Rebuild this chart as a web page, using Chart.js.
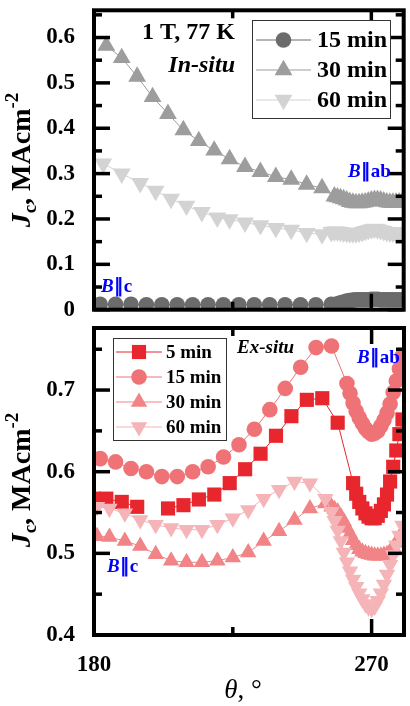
<!DOCTYPE html>
<html>
<head>
<meta charset="utf-8">
<script src="https://cdn.jsdelivr.net/npm/chart.js@4.4.0/dist/chart.umd.min.js"></script>
<style>
html, body { margin: 0; padding: 0; background: #fff; overflow: hidden; }
#wrap { position: relative; width: 410px; height: 706px; overflow: hidden; }
#topChart { position: absolute; left: 0; top: 0; }
#botChart { position: absolute; left: 0; top: 318px; }
</style>
</head>
<body>
<div id="wrap">
<canvas id="topChart" width="414" height="320"></canvas>
<canvas id="botChart" width="414" height="388"></canvas>
</div>
<script>
// ---- in-situ, 1 T, 77 K (top panel) ----
var inSituNames = ['15 min', '30 min', '60 min'];
var angIn15 = [182, 187, 192, 197, 202, 207, 212, 217, 222, 227, 232, 237, 242, 247, 252, 257,
  259, 260, 261, 262, 263, 264, 265, 266, 267, 268, 269, 270, 271, 272, 273, 274, 275, 276, 277, 278, 279, 280];
var jcIn15 = [0.012, 0.012, 0.012, 0.011, 0.011, 0.011, 0.011, 0.011, 0.011, 0.011, 0.011, 0.011, 0.011, 0.011, 0.011, 0.012,
  0.013, 0.015, 0.017, 0.019, 0.020, 0.021, 0.022, 0.022, 0.022, 0.022, 0.022, 0.023, 0.023, 0.023, 0.022, 0.022, 0.022, 0.022, 0.022, 0.022, 0.022, 0.022];
var angIn30 = [184, 189, 194, 199, 204, 209, 214, 219, 224, 229, 234, 239, 244, 249, 254,
  258, 259, 260, 261, 262, 263, 264, 265, 266, 267, 268, 269, 270, 271, 272, 273, 274, 275, 276, 277, 278, 279, 280];
var jcIn30 = [0.582, 0.555, 0.514, 0.469, 0.432, 0.396, 0.372, 0.351, 0.332, 0.315, 0.304, 0.293, 0.287, 0.276, 0.268,
  0.250, 0.248, 0.246, 0.244, 0.241, 0.238, 0.236, 0.235, 0.235, 0.236, 0.237, 0.239, 0.241, 0.242, 0.242, 0.241, 0.239, 0.237, 0.236, 0.236, 0.236, 0.237, 0.237];
var angIn60 = [183, 189, 195, 200, 205, 210, 215, 220, 224, 229, 234, 239, 244, 249, 254,
  257, 258, 259, 260, 261, 262, 263, 264, 265, 266, 267, 268, 269, 270, 271, 272, 273, 274, 275, 276, 277, 278, 279, 280];
var jcIn60 = [0.322, 0.300, 0.279, 0.262, 0.244, 0.229, 0.215, 0.203, 0.199, 0.192, 0.186, 0.180, 0.176, 0.169, 0.166,
  0.171, 0.172, 0.172, 0.171, 0.170, 0.169, 0.168, 0.168, 0.168, 0.169, 0.171, 0.173, 0.175, 0.177, 0.178, 0.177, 0.175, 0.173, 0.171, 0.170, 0.170, 0.170, 0.170, 0.170];

// ---- ex-situ (bottom panel) ----
var exSituNames = ['5 min', '15 min', '30 min', '60 min'];
var angEx5 = [180, 184, 189, 194, 199, 204, 209, 214, 219, 224, 229, 234, 239, 244, 249, 254, 259,
  264, 265, 266, 267, 268, 269, 270, 271, 272, 273, 274, 275, 276, 277, 278, 279, 280];
var jcEx5 = [0.567, 0.567, 0.563, 0.557, null, 0.555, 0.559, 0.566, 0.572, 0.586, 0.603, 0.622, 0.644, 0.668, 0.688, 0.690, 0.660,
  0.586, 0.573, 0.563, 0.555, 0.549, 0.545, 0.543, 0.543, 0.546, 0.552, 0.560, 0.572, 0.588, 0.606, 0.626, 0.646, 0.664];
var angEx15 = [182, 187, 192, 197, 202, 207, 212, 217, 222, 227, 232, 237, 242, 247, 252, 257, 262,
  263, 264, 265, 266, 267, 268, 269, 270, 271, 272, 273, 274, 275, 276, 277, 278, 279, 280];
var jcEx15 = [0.616, 0.612, 0.604, 0.600, 0.594, 0.594, 0.600, 0.606, 0.618, 0.633, 0.652, 0.676, 0.702, 0.728, 0.752, 0.754, 0.708,
  0.696, 0.684, 0.674, 0.666, 0.659, 0.653, 0.649, 0.646, 0.647, 0.650, 0.656, 0.663, 0.672, 0.683, 0.697, 0.711, 0.726, 0.742];
var angEx30 = [181, 185, 190, 195, 200, 205, 210, 215, 220, 225, 230, 235, 240, 245, 250, 255,
  257, 258, 259, 260, 261, 262, 263, 264, 265, 266, 267, 268, 269, 270, 271, 272, 273, 274, 275, 276, 277, 278, 279, 280];
var jcEx30 = [0.521, 0.520, 0.515, 0.509, 0.499, 0.491, 0.489, 0.489, 0.491, 0.495, 0.501, 0.515, 0.527, 0.541, 0.555, 0.561,
  0.557, 0.554, 0.551, 0.545, 0.539, 0.531, 0.524, 0.516, 0.510, 0.505, 0.502, 0.500, 0.499, 0.498, 0.497, 0.497, 0.497, 0.498, 0.499, 0.502, 0.507, 0.513, 0.519, 0.526];
var angEx60 = angEx30;
var jcEx60 = [0.557, 0.555, 0.549, 0.541, 0.535, 0.531, 0.529, 0.529, 0.535, 0.543, 0.553, 0.567, 0.578, 0.588, 0.586, 0.567,
  0.551, 0.540, 0.528, 0.515, 0.501, 0.489, 0.478, 0.468, 0.459, 0.451, 0.444, 0.438, 0.434, 0.432, 0.435, 0.442, 0.451, 0.462, 0.474, 0.486, 0.498, 0.510, 0.522, 0.534];

var xTickLabels = [180, 270];

var serif = "'Liberation Serif', 'Times New Roman', serif";
function b(s) { return 'bold ' + s + 'px ' + serif; }
function bi(s) { return 'italic bold ' + s + 'px ' + serif; }

function series(name, xs, ys, color, style, r, rot, order) {
  return {
    label: name,
    data: xs.map(function (x, i) { return { x: x, y: ys[i] }; }),
    showLine: true, borderColor: color, backgroundColor: color, borderWidth: 1,
    pointStyle: style, pointRadius: r, pointRotation: rot || 0,
    pointBackgroundColor: color, pointBorderColor: color, pointBorderWidth: 0,
    pointHoverRadius: r, order: order || 0
  };
}

function drawRuns(ctx, runs, x, y, align) {
  var total = 0;
  runs.forEach(function (r) { ctx.font = r[1]; total += ctx.measureText(r[0]).width; });
  var cx = align === 'center' ? x - total / 2 : (align === 'right' ? x - total : x);
  runs.forEach(function (r) {
    ctx.font = r[1];
    ctx.fillText(r[0], cx, y + (r[2] || 0));
    cx += ctx.measureText(r[0]).width;
  });
}

function line(ctx, x0, y0, x1, y1) {
  ctx.beginPath(); ctx.moveTo(x0, y0); ctx.lineTo(x1, y1); ctx.stroke();
}

// frame with inward ticks on all four sides
var framePlugin = {
  id: 'frame',
  afterDatasetsDraw: function (chart) {
    var ctx = chart.ctx, a = chart.chartArea;
    var xs = chart.scales.x, ys = chart.scales.y;
    ctx.save();
    ctx.strokeStyle = '#000';
    ctx.lineWidth = 3.5;
    ys.ticks.forEach(function (t) {
      var y = ys.getPixelForValue(t.value);
      var len = Math.round(t.value * 100) % 10 === 0 ? 16 : 8;
      line(ctx, a.left, y, a.left + len, y);
      line(ctx, a.right, y, a.right - len, y);
    });
    xs.ticks.forEach(function (t) {
      var x = xs.getPixelForValue(t.value);
      var len = t.value % 90 === 0 ? 16 : 8;
      line(ctx, x, a.bottom, x, a.bottom - len);
      line(ctx, x, a.top, x, a.top + len);
    });
    ctx.lineWidth = 4;
    ctx.strokeRect(a.left, a.top, a.right - a.left, a.bottom - a.top);
    ctx.restore();
  }
};

function drawLegend(chart, box, rows, lx0, lx1, tx, font) {
  var ctx = chart.ctx;
  ctx.save();
  ctx.fillStyle = '#fff';
  ctx.fillRect(box[0], box[1], box[2], box[3]);
  ctx.strokeStyle = '#333';
  ctx.lineWidth = 1;
  ctx.strokeRect(box[0] + 0.5, box[1] + 0.5, box[2], box[3]);
  chart.data.datasets.forEach(function (ds, i) {
    var y = rows[i];
    ctx.strokeStyle = ds.borderColor;
    ctx.lineWidth = 1;
    line(ctx, lx0, y, lx1, y);
    ctx.fillStyle = ds.borderColor;
    Chart.helpers.drawPoint(ctx, { pointStyle: ds.pointStyle, radius: ds.pointRadius, rotation: ds.pointRotation, borderWidth: 0 }, (lx0 + lx1) / 2, y);
    ctx.fillStyle = '#000';
    ctx.font = font;
    ctx.textBaseline = 'middle';
    ctx.textAlign = 'left';
    ctx.fillText(ds.label, tx, y + 1);
  });
  ctx.restore();
}

function drawYTitle(ctx, x, cy) {
  ctx.save();
  ctx.translate(x, cy);
  ctx.rotate(-Math.PI / 2);
  ctx.fillStyle = '#000';
  ctx.textBaseline = 'alphabetic';
  drawRuns(ctx, [['J', bi(28)], ['c', b(19), 6], [', MAcm', b(28)], ['-2', b(19), -12]], 0, 0, 'center');
  ctx.restore();
}

function blueB(ctx, rest, x, y, size) {
  ctx.fillStyle = '#0000ff';
  drawRuns(ctx, [['B', bi(size)], [rest, b(size)]], x, y);
}

var topDecor = {
  id: 'topDecor',
  afterDraw: function (chart) {
    var ctx = chart.ctx;
    ctx.save();
    ctx.textBaseline = 'alphabetic';
    ctx.fillStyle = '#000';
    drawRuns(ctx, [['1 T, 77 K', b(24)]], 235, 39, 'right');
    drawRuns(ctx, [['In-situ', bi(24)]], 235, 72, 'right');
    blueB(ctx, '\u2225ab', 348, 177, 19);
    blueB(ctx, '\u2225c', 101, 292, 19);
    ctx.restore();
    drawLegend(chart, [252, 20, 138, 98], [40, 70, 100], 256, 311, 317, b(24));
    drawYTitle(ctx, 30, 160);
  }
};

var botDecor = {
  id: 'botDecor',
  afterDraw: function (chart) {
    var ctx = chart.ctx;
    ctx.save();
    ctx.textBaseline = 'alphabetic';
    ctx.fillStyle = '#000';
    drawRuns(ctx, [['Ex-situ', bi(19)]], 237, 35);
    blueB(ctx, '\u2225ab', 357, 45, 19);
    blueB(ctx, '\u2225c', 107, 254, 19);
    ctx.fillStyle = '#000';
    drawRuns(ctx, [['\u03b8', 'italic 27px ' + serif], [', \u00b0', '27px ' + serif]], 243, 380, 'center');
    ctx.restore();
    drawLegend(chart, [113, 20, 113, 102], [34, 59, 84, 109], 116, 162, 166, b(19));
    drawYTitle(ctx, 30, 162);
  }
};

function yScale(min, max) {
  return {
    type: 'linear', min: min, max: max,
    grid: { display: false, drawTicks: false, tickLength: 0 },
    border: { display: false },
    ticks: {
      stepSize: 0.05, includeBounds: false, autoSkip: false, padding: 19, color: '#000',
      font: { family: serif, size: 23, weight: 'bold' },
      callback: function (v) { var t = Math.round(v * 100); return t % 10 === 0 ? String(t / 100) : ''; }
    },
    afterFit: function (s) { s.width = 94; s.paddingTop = 0; s.paddingBottom = 0; }
  };
}

function xScale(showLabels, h) {
  return {
    type: 'linear', min: 180, max: 280.5,
    grid: { display: false, drawTicks: false, tickLength: 0 },
    border: { display: false },
    ticks: {
      display: showLabels, stepSize: 45, includeBounds: false, autoSkip: false, maxRotation: 0,
      padding: 16, color: '#000', font: { family: serif, size: 23, weight: 'bold' },
      callback: function (v) { return xTickLabels.indexOf(v) >= 0 ? String(v) : ''; }
    },
    afterFit: function (s) { s.height = h; s.paddingLeft = 0; s.paddingRight = 0; }
  };
}

var commonPlugins = { legend: { display: false }, tooltip: { enabled: false } };

new Chart(document.getElementById('topChart').getContext('2d'), {
  type: 'scatter',
  data: {
    datasets: [
      series(inSituNames[0], angIn15, jcIn15, '#6b6b6b', 'circle', 7.8),
      series(inSituNames[1], angIn30, jcIn30, '#9d9d9d', 'triangle', 10.3),
      series(inSituNames[2], angIn60, jcIn60, '#d3d3d3', 'triangle', 10.3, 180)
    ]
  },
  options: {
    responsive: false, animation: false, events: [],
    layout: { padding: { top: 3, right: 3, bottom: 0, left: 0 } },
    scales: { x: xScale(false, 8), y: yScale(0, 0.66) },
    plugins: commonPlugins
  },
  plugins: [framePlugin, topDecor]
});

new Chart(document.getElementById('botChart').getContext('2d'), {
  type: 'scatter',
  data: {
    datasets: [
      series(exSituNames[0], angEx5, jcEx5, '#e8262e', 'rect', 10, 0, 3),
      series(exSituNames[1], angEx15, jcEx15, '#ef7376', 'circle', 7.8, 0, 2),
      series(exSituNames[2], angEx30, jcEx30, '#f18486', 'triangle', 9.5, 0, 1),
      series(exSituNames[3], angEx60, jcEx60, '#f5b4b7', 'triangle', 9.5, 180, 0)
    ]
  },
  options: {
    responsive: false, animation: false, events: [],
    layout: { padding: { top: 6, right: 3, bottom: 0, left: 0 } },
    scales: { x: xScale(true, 71), y: yScale(0.4, 0.776) },
    plugins: commonPlugins
  },
  plugins: [framePlugin, botDecor]
});
</script>
</body>
</html>
